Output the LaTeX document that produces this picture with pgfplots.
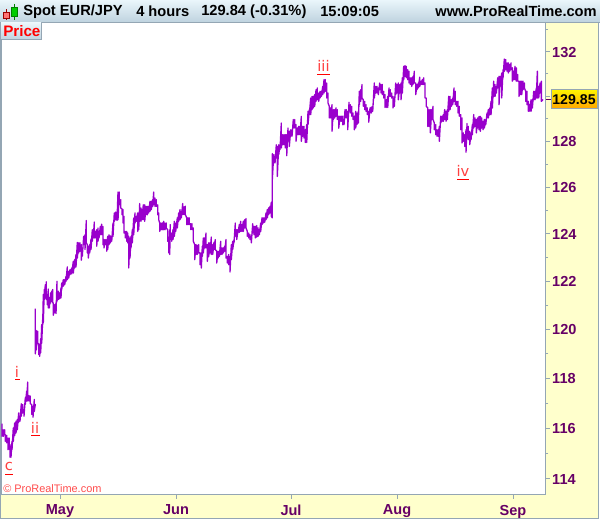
\documentclass[border=0pt]{standalone}
\usepackage{fontspec}
\setmainfont{Liberation Sans}
\newfontfamily\wavefont{DejaVu Sans}
\usepackage{pgfplots}
\pgfplotsset{compat=1.18}
\definecolor{panel}{HTML}{FFFFCC}
\definecolor{edge}{HTML}{94A6B4}
\definecolor{dpurple}{HTML}{660066}
\definecolor{series}{HTML}{9900CC}
\definecolor{wavered}{HTML}{FF4040}
\definecolor{bartop}{HTML}{EAF6FB}
\definecolor{barbot}{HTML}{BFD3DF}
\newcommand{\bigbold}{\fontsize{11pt}{12pt}\selectfont\bfseries}
\newcommand{\tickbold}{\fontsize{10.9pt}{12pt}\selectfont\bfseries}
\newcommand{\wave}{\fontsize{11pt}{12pt}\selectfont\wavefont\color{wavered}}
\begin{document}
\begin{tikzpicture}
\begin{scope}[x=0.75pt,y=-0.75pt]
\path[use as bounding box] (0,0) rectangle (600,519);
\fill[white] (0,0) rectangle (600,519);
\fill[panel] (1,495) rectangle (599,518);
\fill[panel] (545,22) rectangle (599,518);
\shade[top color=bartop,bottom color=barbot] (0,0) rectangle (600,22);
\draw[edge,line width=0.9pt] (0,22.5) -- (600,22.5);
\draw[edge,line width=0.75pt] (0.5,22) -- (0.5,518.5) -- (598.5,518.5) -- (598.5,22);
\end{scope}
\begin{axis}[
  at={(0.75pt,-371.25pt)},anchor=south west,scale only axis,
  width=408.4pt,height=354pt,
  xmin=1,xmax=545.5,ymode=log,ymin=113.37,ymax=133.32,
  axis line style={edge,line width=0.9pt},
  axis background/.style={fill=white},
  xtick={60,176,291,397,513},xticklabels={May,Jun,Jul,Aug,Sep},
  ytick={114,116,118,120,122,124,126,128,130,132},
  yticklabels={114,116,118,120,122,124,126,128,,132},
  minor ytick={115,117,119,121,123,125,127,129,131,133},
  tick align=outside,ytick pos=right,xtick pos=bottom,
  major tick length=3pt,minor tick length=2pt,
  tick style={edge,line width=0.6pt},
  minor tick style={edge,line width=0.6pt},
  xticklabel style={font=\tickbold,text=dpurple,yshift=-1.2pt},
  yticklabel style={font=\tickbold,text=dpurple,anchor=west,xshift=-1.5pt,yshift=-0.4pt},
]
\addplot[series,line width=1pt,line join=round,mark=none] coordinates {
(2,116.18)(2,115.67)(3.3,115.93)(3.3,115.67)(4.7,115.93)(4.7,115.74)(5.3,115.74)(5.3,115.47)(6.7,115.71)(6.7,115.41)(8,115.60)(8,115.14)(9.3,115.60)(9.3,115.17)(10,115.14)(10,114.84)(11,115.34)(11,114.84)(12,115.47)(12,115.14)(13.3,116.00)(13.3,115.47)(14.7,116.20)(14.7,115.70)(16,116.27)(16,115.80)(17.3,116.34)(17.3,115.93)(18.7,116.60)(18.7,116.23)(20,116.47)(20,116.27)(21.3,116.97)(21.3,116.47)(22.7,116.94)(22.7,116.60)(24,116.74)(24,116.47)(25.3,117.21)(25.3,116.94)(26.7,117.48)(26.7,117.08)(27.7,117.84)(27.7,117.08)(29,117.30)(29,117.08)(30.3,117.28)(30.3,116.97)(31.7,116.94)(31.7,116.54)(33,116.87)(33,116.43)(34.3,117.14)(34.3,116.67)(35.3,116.94)(35.3,116.90)
};
\addplot[series,line width=1pt,line join=round,mark=none] coordinates {
(35.3,120.86)(35.3,118.99)(36.3,119.95)(36.3,119.15)(37.7,119.92)(37.7,119.41)(38.7,119.41)(38.7,118.96)(39.7,119.36)(39.7,118.89)(40.7,119.62)(40.7,119.03)(41.7,120.19)(41.7,119.43)(42.7,120.43)(42.7,120.19)(43.3,121.44)(43.3,120.26)(44.3,121.65)(44.3,121.23)(45.3,121.85)(45.3,121.30)(46.3,121.97)(46.3,121.23)(47.3,121.44)(47.3,121.02)(48.3,121.67)(48.3,120.88)(49.3,121.30)(49.3,120.88)(50.7,121.51)(50.7,121.09)(51.7,121.58)(51.7,121.16)(52.7,121.65)(52.7,121.09)(53.3,121.09)(53.3,120.58)(54.7,121.02)(54.7,120.68)(56,121.09)(56,120.65)(57,121.99)(57,121.16)(58.3,121.58)(58.3,121.23)(59.7,121.51)(59.7,121.26)(61,121.72)(61,121.30)
(61.7,121.92)(61.7,121.65)(63.3,122.06)(63.3,121.79)(64.7,122.06)(64.7,121.85)(66,122.20)(66,121.99)(67.3,122.60)(67.3,122.06)(68.7,122.41)(68.7,122.13)(70,122.48)(70,122.27)(71.7,122.55)(71.7,122.30)(73.3,122.83)(73.3,122.34)(74.7,122.90)(74.7,122.55)(76,123.12)(76,122.60)(77.3,123.63)(77.3,122.97)(78.7,123.61)(78.7,123.19)(80,123.61)(80,123.26)(81.3,123.54)(81.3,122.88)(82.3,123.40)(82.3,123.05)(83.7,123.89)(83.7,123.54)(85,123.96)(85,123.33)(86.3,124.56)(86.3,123.61)(87.3,123.54)(87.3,123.19)(88.3,123.47)(88.3,122.97)(89.7,123.54)(89.7,123.19)(91,123.78)(91,123.33)(92.3,124.17)(92.3,123.68)(93.3,124.17)(93.3,123.82)(94.3,124.50)(94.3,123.82)(95.3,124.10)(95.3,123.82)(96.7,124.17)(96.7,123.47)(98,124.24)(98,123.68)(99,124.10)(99,123.82)(100.3,124.31)(100.3,123.96)(101.7,124.41)(101.7,123.96)(103,124.31)(103,123.54)(104,123.75)(104,123.40)(105.3,123.75)(105.3,123.54)(106.7,123.75)(106.7,123.26)(107.7,123.89)(107.7,123.33)(109,123.96)(109,123.54)(110.3,123.91)(110.3,123.61)(111.7,123.89)(111.7,123.68)(113,124.46)(113,123.89)(114.3,124.89)(114.3,124.53)(115.7,124.93)(115.7,124.60)(117,124.93)(117,124.57)(118,125.79)(118,124.60)(119.3,125.79)(119.3,125.24)(120.7,125.46)(120.7,125.10)(122,125.06)(122,124.81)(123,125.03)(123,124.46)(124,124.74)(124,124.03)(125.3,124.10)(125.3,123.82)(126.7,124.10)(126.7,123.68)(127.7,124.03)(127.7,123.61)(128.7,123.89)(128.7,122.55)(130,123.82)(130,122.97)(131,123.89)(131,123.40)(132.3,124.17)(132.3,123.61)(133.7,124.67)(133.7,123.96)(135,124.89)(135,124.46)(136.3,124.74)(136.3,124.53)(137.7,124.89)(137.7,124.10)(138.7,124.89)(138.7,124.17)(139.7,125.29)(139.7,124.53)(141,125.10)(141,124.53)(142,125.03)(142,124.60)(143.3,125.24)(143.3,124.60)(144.7,125.24)(144.7,124.53)(146,125.17)(146,124.81)(147.3,125.17)(147.3,124.81)(148.7,125.17)(148.7,124.89)(150,125.39)(150,124.96)(151.3,125.39)(151.3,125.03)(152.7,125.46)(152.7,125.17)(153.7,125.79)(153.7,125.24)(155,125.53)(155,125.17)(156.3,125.46)(156.3,125.17)(157.7,125.24)(157.7,124.81)(158.7,124.89)(158.7,124.60)(159.7,124.46)(159.7,124.10)(161,124.46)(161,124.17)(162.3,124.46)(162.3,124.17)(163.7,124.53)(163.7,124.17)(165,124.46)(165,124.17)(166.3,124.46)(166.3,124.24)(167.7,124.17)(167.7,123.68)(168.7,123.82)(168.7,123.19)(169.7,124.17)(169.7,123.12)
(170.3,124.39)(170.3,123.75)(171.7,124.03)(171.7,123.68)(173,124.18)(173,123.75)(174.3,124.53)(174.3,123.89)(175.7,124.46)(175.7,124.10)(177.3,124.68)(177.3,124.25)(178.7,124.89)(178.7,124.53)(180,125.03)(180,124.60)(181.3,124.96)(181.3,124.68)(182.7,125.29)(182.7,124.82)(184,125.15)(184,124.82)(185.3,125.18)(185.3,124.82)(186.7,124.68)(186.7,124.39)(188,124.68)(188,124.39)(189.3,124.68)(189.3,124.39)(190.7,124.43)(190.7,124.18)(192,124.43)(192,124.18)(193.3,124.25)(193.3,123.68)(194.7,123.54)(194.7,122.90)(196,123.54)(196,123.12)(197.3,123.51)(197.3,123.12)(198.7,123.54)(198.7,123.19)(200,123.19)(200,122.69)(201.3,123.19)(201.3,122.55)(202.3,123.47)(202.3,123.04)(203.3,123.82)(203.3,123.19)(204.7,123.82)(204.7,123.40)(206,124.03)(206,123.40)(207.3,123.54)(207.3,122.83)(208.7,123.61)(208.7,123.04)(210,123.61)(210,123.19)(211.3,123.86)(211.3,123.12)(212.7,123.54)(212.7,123.12)(214,123.64)(214,123.33)(215.3,123.75)(215.3,123.33)(216.7,123.26)(216.7,122.76)(218,123.26)(218,122.97)(219.3,123.26)(219.3,123.04)(220.7,123.68)(220.7,123.12)(222,123.40)(222,123.12)(223.3,123.40)(223.3,123.19)(224.7,123.47)(224.7,123.26)(226,123.75)(226,122.97)(227.3,123.04)(227.3,122.76)(228.7,123.12)(228.7,122.69)(230,123.04)(230,122.38)(231.3,123.54)(231.3,122.90)(232.7,123.68)(232.7,123.33)(234,123.75)(234,123.61)(235.3,124.46)(235.3,123.89)(236.7,124.18)(236.7,123.75)(238,124.18)(238,124.03)(239.3,124.39)(239.3,124.06)(240.7,124.53)(240.7,124.10)(242,124.39)(242,124.10)(243.3,124.53)(243.3,124.10)(244.7,124.60)(244.7,124.25)(246,124.65)(246,124.25)(247.3,124.10)(247.3,123.89)(248.7,124.03)(248.7,123.82)(250,123.96)(250,123.75)(251.3,123.89)(251.3,123.61)(252.7,124.43)(252.7,124.03)(254,124.32)(254,123.96)(255.3,124.32)(255.3,123.82)(256.7,124.35)(256.7,123.86)(258,124.25)(258,123.89)(259.3,124.18)(259.3,123.96)(260.7,124.46)(260.7,124.10)(262,124.68)(262,124.39)(263.3,124.68)(263.3,124.46)(264.7,124.68)(264.7,124.49)(266,124.89)(266,124.60)(267.3,125.03)(267.3,124.68)(268.7,125.11)(268.7,124.82)(270,125.18)(270,124.89)(271.3,125.35)(271.3,124.75)
(272.3,124.68)(272.3,127.46)(272.3,126.33)(273.7,127.42)(273.7,127.05)(275,127.34)(275,127.05)(276.3,127.85)(276.3,127.27)(277.3,127.78)(277.3,126.47)(278.7,127.85)(278.7,127.42)(280,127.85)(280,127.63)(281.3,128.81)(281.3,127.71)(282.7,128.29)(282.7,127.85)(284,128.29)(284,127.85)(285.3,128.29)(285.3,127.71)(286.7,128.29)(286.7,127.37)(288,128.59)(288,128.00)(289.3,128.44)(289.3,127.78)(290.7,128.51)(290.7,128.22)(292,128.51)(292,128.22)(293.3,128.96)(293.3,128.59)(294.7,128.96)(294.7,128.59)(296,128.74)(296,128.00)(297.3,128.59)(297.3,128.29)(298.7,128.66)(298.7,128.29)(300,128.66)(300,128.29)(301.3,129.10)(301.3,128.00)(302.7,128.66)(302.7,128.22)(304,128.66)(304,128.15)(305.3,128.51)(305.3,127.95)(306.7,128.74)(306.7,127.95)(308,129.33)(308,128.74)(309.3,129.40)(309.3,129.18)(310.7,129.92)(310.7,129.18)(312,129.99)(312,129.40)(313.3,129.99)(313.3,129.48)(314.7,130.07)(314.7,129.55)(316,130.29)(316,129.77)(317.3,130.37)(317.3,129.84)(318.7,130.14)(318.7,129.77)(320,130.22)(320,129.92)(321.3,130.22)(321.3,129.99)(322.7,130.44)(322.7,130.07)(324,130.74)(324,130.14)(325.3,130.74)(325.3,130.22)(326.7,130.59)(326.7,129.92)(328,130.14)(328,129.70)(329.3,129.55)(329.3,129.03)(330.7,129.48)(330.7,129.03)(332,129.62)(332,128.44)(333.3,129.40)(333.3,128.96)(334.7,129.40)(334.7,129.03)(336,129.48)(336,129.11)(337.3,129.40)(337.3,128.96)(338.7,129.11)(338.7,128.58)(340,129.11)(340,128.88)(341.3,129.11)(341.3,128.88)(342.7,129.11)(342.7,128.73)(344,128.96)(344,128.73)(345,129.40)(345,129.03)(346.3,129.40)(346.3,129.03)(347.7,129.33)(347.7,128.51)(349,129.73)(349,129.33)(350.3,129.62)(350.3,129.25)(351.7,129.55)(351.7,129.11)(353,129.25)(353,128.96)(354.3,129.11)(354.3,128.51)(355.7,129.33)(355.7,128.59)(357,129.25)(357,128.74)(358.3,129.33)(358.3,128.81)(359.3,130.22)(359.3,129.62)(360.7,130.29)(360.7,129.77)(362,130.52)(362,129.92)(363.3,129.84)(363.3,129.55)(364.7,129.77)(364.7,129.40)(366,129.62)(366,129.33)(367.3,129.48)(367.3,129.18)(368.7,129.33)(368.7,128.84)(370,129.48)(370,129.25)(371.3,129.52)(371.3,129.25)(372.7,129.55)(372.7,129.33)
(374.3,130.59)(374.3,129.92)(375.7,130.44)(375.7,130.14)(377,130.44)(377,130.14)(378.3,130.37)(378.3,130.07)(379.7,130.59)(379.7,130.29)(381,130.52)(381,130.14)(382.3,130.52)(382.3,130.07)(383.7,130.22)(383.7,129.92)(385,130.07)(385,129.50)(386.3,129.84)(386.3,129.50)(387.7,129.99)(387.7,129.50)(389,130.37)(389,129.99)(390.3,130.29)(390.3,129.99)(391.7,130.14)(391.7,129.92)(393,129.99)(393,129.48)(394.3,129.92)(394.3,129.55)(395.7,130.59)(395.7,130.07)(397,130.52)(397,130.14)(398.3,130.59)(398.3,129.84)(399.7,130.52)(399.7,130.14)(401,130.59)(401,129.84)(402.3,130.82)(402.3,130.14)(403.7,131.34)(403.7,130.74)(405,131.37)(405,130.89)(406.3,131.34)(406.3,130.82)(407.7,131.19)(407.7,130.74)(409,131.12)(409,130.59)(410.3,130.82)(410.3,130.52)(411.7,130.82)(411.7,130.44)(413,130.89)(413,130.52)(414.3,131.12)(414.3,130.59)(415.7,130.59)(415.7,130.07)(417,130.52)(417,130.29)(418.3,130.59)(418.3,130.37)(419.7,130.85)(419.7,130.44)(421,130.67)(421,130.52)(422.3,130.74)(422.3,130.52)(423.7,130.82)(423.7,130.52)(425,130.59)(425,129.92)(426.3,129.92)(426.3,129.55)(427.7,129.48)(427.7,128.66)(429,129.40)(429,128.66)(430.3,129.40)(430.3,128.37)(431.7,129.40)(431.7,128.96)(433,129.55)(433,128.96)(434.3,128.81)(434.3,128.51)(435.7,128.74)(435.7,128.29)(437,128.51)(437,128.22)(438.3,128.51)(438.3,128.22)(439.3,128.66)(439.3,128.00)(440.7,129.11)(440.7,128.81)(442,129.11)(442,128.88)(443.3,129.18)(443.3,128.88)(444.7,129.40)(444.7,128.96)(446,129.33)(446,128.88)(447.3,129.40)(447.3,128.96)(448.7,129.99)(448.7,129.33)(450,129.99)(450,129.40)(451.3,129.84)(451.3,129.55)(452.7,129.92)(452.7,129.62)(454,130.37)(454,129.77)(455.3,130.22)(455.3,129.62)(456.7,129.77)(456.7,129.55)(458,129.77)(458,129.25)(459.3,129.55)(459.3,129.11)(460.7,129.18)(460.7,128.51)(462,129.03)(462,127.93)(463.3,128.37)(463.3,128.00)(464.7,128.29)(464.7,127.78)(466,128.51)(466,127.52)
(467,128.78)(467,128.14)(468.3,128.66)(468.3,128.07)(469.7,128.44)(469.7,127.85)(471,128.37)(471,128.07)(472.3,128.73)(472.3,128.29)(473.7,129.18)(473.7,128.59)(475,129.03)(475,128.66)(476.3,128.96)(476.3,128.37)(477.7,129.03)(477.7,128.59)(479,129.10)(479,128.51)(480.3,129.10)(480.3,128.44)(481.7,129.03)(481.7,128.59)(483,128.88)(483,128.51)(484.3,128.96)(484.3,128.59)(485.7,128.96)(485.7,128.73)(487,129.25)(487,129.03)(488.3,129.40)(488.3,129.03)(489.7,129.47)(489.7,129.18)(491,129.77)(491,129.18)(492.3,130.37)(492.3,129.47)(493.7,130.67)(493.7,129.99)(495,130.52)(495,129.99)(496.3,130.44)(496.3,130.14)(497.7,130.82)(497.7,130.37)(499,130.89)(499,129.62)(500.3,130.89)(500.3,130.44)(501.7,131.04)(501.7,129.92)(503,131.19)(503,130.82)(504.3,131.67)(504.3,131.12)(505.7,131.64)(505.7,131.19)(507,131.49)(507,131.12)(508.3,131.49)(508.3,131.04)(509.7,131.42)(509.7,131.12)(511,131.49)(511,131.19)(512.3,131.27)(512.3,130.67)(513.7,131.12)(513.7,130.74)(515,131.34)(515,130.74)(516.3,131.27)(516.3,130.67)(517.7,130.97)(517.7,130.67)(519,130.67)(519,129.99)(520.3,130.67)(520.3,130.07)(521.7,130.67)(521.7,130.07)(523,130.67)(523,130.29)(524.3,130.59)(524.3,130.37)(525.7,130.22)(525.7,129.77)(527,130.22)(527,129.62)(528.3,129.77)(528.3,129.33)(529.7,129.62)(529.7,129.33)(531,129.84)(531,129.33)(532.3,129.84)(532.3,129.47)(533.7,130.22)(533.7,129.84)(535,130.22)(535,129.84)(536.3,130.37)(536.3,129.92)(537.3,131.12)(537.3,129.92)(538.7,130.44)(538.7,129.92)(540,130.59)(540,130.14)(541.3,130.67)(541.3,129.77)(542.7,129.84)(542.7,129.81)
};
\end{axis}
\begin{scope}[x=0.75pt,y=-0.75pt]
% header
\fill[red!55!white,draw=red!60!black,line width=0.3pt] (3.5,12) rectangle (9,18);
\draw[red!60!black,line width=0.4pt] (6.2,9.5) -- (6.2,12) (6.2,18) -- (6.2,20);
\fill[green!80!black,draw=green!50!black,line width=0.3pt] (11.5,7.5) rectangle (17,16.5);
\draw[green!50!black,line width=0.4pt] (14.2,4) -- (14.2,7.5) (14.2,16.5) -- (14.2,20);
\node[anchor=west,inner sep=0pt,font=\bigbold] at (23,11.5) {Spot EUR/JPY};
\node[anchor=west,inner sep=0pt,font=\bigbold] at (136,11.5) {4 hours};
\node[anchor=west,inner sep=0pt,font=\bigbold] at (201,11.5) {129.84 (-0.31\%)};
\node[anchor=west,inner sep=0pt,font=\bigbold] at (320,11.5) {15:09:05};
\node[anchor=east,inner sep=0pt,font=\bigbold] at (597,11.5) {www.ProRealTime.com};
% Price tag
\shade[top color=bartop,bottom color=barbot] (1,23) rectangle (41,39.5);
\draw[edge,line width=0.6pt] (41,23) -- (41,39.5) -- (1,39.5);
\node[anchor=west,inner sep=0pt,font=\fontsize{11.4pt}{12pt}\selectfont\bfseries,text=red] at (3,31.5) {Price};
% watermark
\node[anchor=west,inner sep=0pt,font=\fontsize{8.2pt}{10pt}\selectfont,text=red!70!white] at (3,489) {© ProRealTime.com};
% wave labels
\node[inner sep=0pt,font=\wave] at (17,372) {i};
\draw[red,line width=0.6pt] (15,379.5) -- (20,379.5);
\node[inner sep=0pt,font=\wave] at (35,427.5) {ii};
\draw[red,line width=0.6pt] (31,435.5) -- (40,435.5);
\node[inner sep=0pt,font=\wave] at (9,466.5) {c};
\draw[red,line width=0.6pt] (5,474.5) -- (13,474.5);
\node[inner sep=0pt,font=\wave] at (323.5,66) {iii};
\draw[red,line width=0.6pt] (317,74.5) -- (330,74.5);
\node[inner sep=0pt,font=\wave] at (463,171) {iv};
\draw[red,line width=0.6pt] (457,179.5) -- (469,179.5);
% current price
\draw[dpurple,line width=0.75pt] (545.5,99.5) -- (551,99.5);
\shade[top color=yellow!90!orange,bottom color=orange!70!yellow] (551,90) rectangle (597,108.5);
\draw[edge,line width=0.75pt] (551,90) rectangle (597,108.5);
\node[inner sep=0pt,font=\fontsize{10.6pt}{12pt}\selectfont\bfseries] at (574,99.5) {129.85};
\end{scope}
\end{tikzpicture}
\end{document}
